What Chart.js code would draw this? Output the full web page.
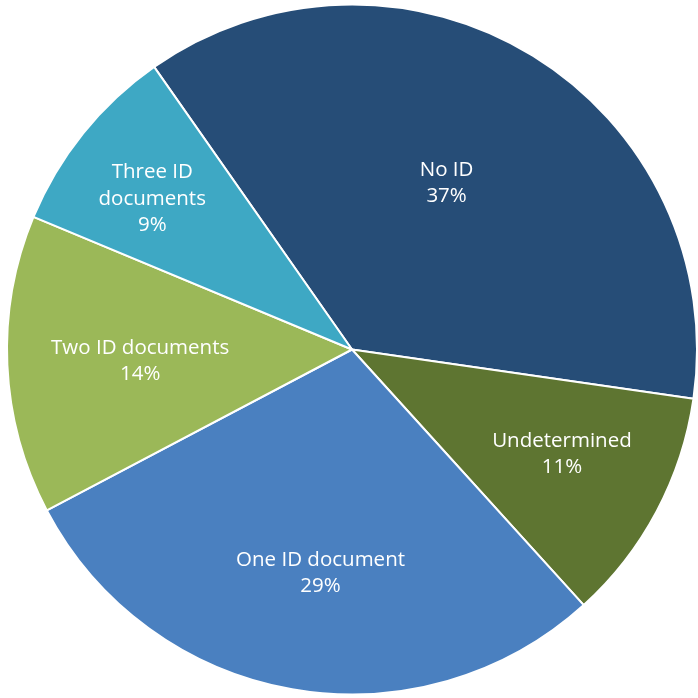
<!DOCTYPE html>
<html>
<head>
<meta charset="utf-8">
<script src="https://cdn.jsdelivr.net/npm/chart.js@4/dist/chart.umd.min.js"></script>
<style>
  html, body { margin: 0; padding: 0; background: #fff; }
  #wrap { width: 698px; height: 698px; }
</style>
</head>
<body>
<div id="wrap"><canvas id="idChart"></canvas></div>
<script>
// categories and shares (%), starting with "No ID" and going clockwise
const categories = ['No ID', 'Undetermined', 'One ID document', 'Two ID documents', 'Three ID documents'];
const shares = [37, 11, 29, 14, 9];
const labelLines = [['No ID'], ['Undetermined'], ['One ID document'], ['Two ID documents'], ['Three ID', 'documents']];
const sliceColors = ['#264d77', '#5e7531', '#4a80c0', '#9bb858', '#3ea8c4'];

// where to put the text inside each slice (fraction of radius, angle tweak in degrees)
const labelRadius = [0.555, 0.68, 0.655, 0.615, 0.725];
const labelTurn = [-2, -1.5, -2, -0.6, -1.8];

const sliceLabels = {
  id: 'sliceLabels',
  afterDatasetsDraw(chart) {
    const ctx = chart.ctx;
    const meta = chart.getDatasetMeta(0);
    ctx.save();
    ctx.fillStyle = '#ffffff';
    ctx.font = '20.5px "Open Sans", sans-serif';
    ctx.textAlign = 'center';
    ctx.textBaseline = 'middle';
    const lineH = 26.5;
    meta.data.forEach((arc, i) => {
      const p = arc.getProps(['x', 'y', 'startAngle', 'endAngle', 'outerRadius'], true);
      const a = (p.startAngle + p.endAngle) / 2 + labelTurn[i] * Math.PI / 180;
      const r = p.outerRadius * labelRadius[i];
      const cx = p.x + Math.cos(a) * r;
      const cy = p.y + Math.sin(a) * r;
      const lines = labelLines[i].concat([shares[i] + '%']);
      const top = cy - (lines.length - 1) * lineH / 2;
      lines.forEach((t, k) => ctx.fillText(t, cx, top + k * lineH));
    });
    ctx.restore();
  }
};

new Chart(document.getElementById('idChart'), {
  type: 'pie',
  data: {
    labels: categories,
    datasets: [{
      data: shares,
      backgroundColor: sliceColors,
      borderColor: '#ffffff',
      borderWidth: 2
    }]
  },
  options: {
    responsive: true,
    maintainAspectRatio: false,
    animation: false,
    rotation: -35,
    layout: { padding: { left: 6, right: 0, top: 1, bottom: 0 } },
    plugins: {
      legend: { display: false },
      tooltip: { enabled: false }
    }
  },
  plugins: [sliceLabels]
});
</script>
</body>
</html>
